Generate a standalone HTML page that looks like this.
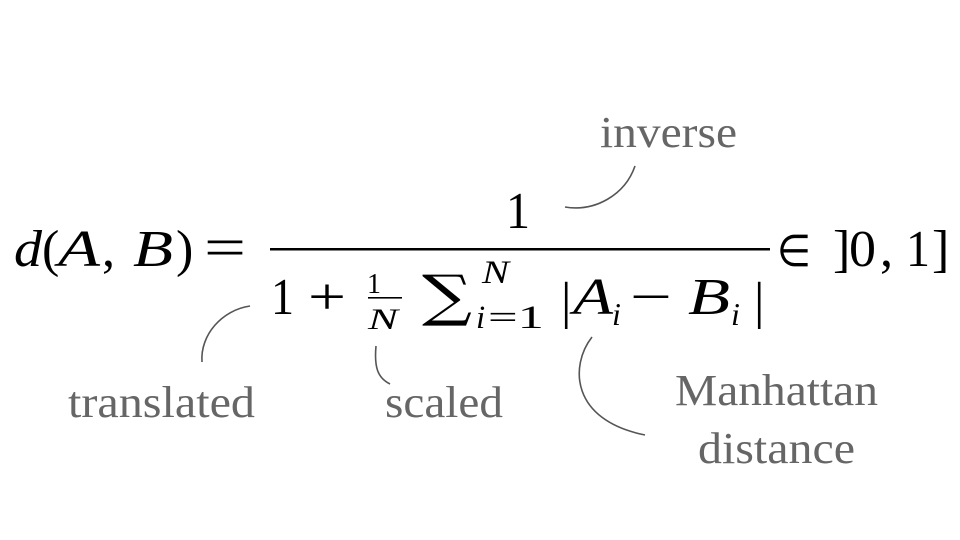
<!DOCTYPE html>
<html><head><meta charset="utf-8"><style>
html,body{margin:0;padding:0;background:#fff;width:960px;height:540px;overflow:hidden}
svg{display:block}
text{font-family:"Liberation Serif",serif}
.m{fill:#000}
.it{font-style:italic}
.l{fill:#666;font-size:44px}
.c{fill:none;stroke:#555;stroke-width:1.6}
</style></head><body>
<svg width="960" height="540">
<g>
<g font-size="52">
<text class="m it" x="14" y="266" textLength="28" lengthAdjust="spacingAndGlyphs">d</text>
<text class="m" x="42" y="266">(</text>
<text class="m it" x="58" y="266" textLength="42" lengthAdjust="spacingAndGlyphs">A</text>
<text class="m" x="102" y="266">,</text>
<text class="m it" x="133" y="266" textLength="40" lengthAdjust="spacingAndGlyphs">B</text>
<text class="m" x="176" y="266">)</text>
<text class="m" x="204" y="266" font-size="56" textLength="42" lengthAdjust="spacingAndGlyphs">=</text>
</g>
<text class="m" x="506" y="228" font-size="52" textLength="24" lengthAdjust="spacingAndGlyphs">1</text>
<rect x="270" y="248" width="500" height="2.5" fill="#000"/>
<g>
<text class="m" x="271" y="314" font-size="52" textLength="23" lengthAdjust="spacingAndGlyphs">1</text>
<text class="m" x="308" y="314" font-size="52" textLength="38" lengthAdjust="spacingAndGlyphs">+</text>
<text class="m" x="367" y="293" font-size="28">1</text>
<rect x="368" y="297" width="34" height="1.6" fill="#000"/>
<text class="m it" x="368" y="329" font-size="30" textLength="30" lengthAdjust="spacingAndGlyphs">N</text>
<text class="m" x="422" y="315" font-size="56" style="font-family:'DejaVu Serif',serif" textLength="50" lengthAdjust="spacingAndGlyphs">∑</text>
<text class="m it" x="482" y="283" font-size="33" textLength="27" lengthAdjust="spacingAndGlyphs">N</text>
<text class="m it" x="476" y="328" font-size="33">i</text>
<text class="m" x="488" y="328" font-size="33" textLength="56" lengthAdjust="spacingAndGlyphs">=1</text>
<text class="m" x="561" y="318" font-size="52">|</text>
<text class="m it" x="573" y="314" font-size="52" textLength="40" lengthAdjust="spacingAndGlyphs">A</text>
<text class="m it" x="612" y="325" font-size="32">i</text>
<text class="m" x="630" y="314" font-size="52" textLength="42" lengthAdjust="spacingAndGlyphs">−</text>
<text class="m it" x="688" y="314" font-size="52" textLength="42" lengthAdjust="spacingAndGlyphs">B</text>
<text class="m it" x="731" y="325" font-size="32">i</text>
<text class="m" x="754" y="318" font-size="52">|</text>
</g>
<g font-size="52">
<text class="m" x="777" y="266" style="font-family:'DejaVu Sans',sans-serif" font-size="44" textLength="34" lengthAdjust="spacingAndGlyphs">∈</text>
<text class="m" x="833" y="266">]</text>
<text class="m" x="849" y="266" textLength="27" lengthAdjust="spacingAndGlyphs">0</text>
<text class="m" x="880" y="266">,</text>
<text class="m" x="906" y="266" textLength="24" lengthAdjust="spacingAndGlyphs">1</text>
<text class="m" x="932" y="266">]</text>
</g>
</g>
<g>
<text class="l" x="600" y="147" textLength="137" lengthAdjust="spacingAndGlyphs">inverse</text>
<path class="c" d="M565,207 C595,212 625,195 635,166"/>
<text class="l" x="68" y="417" textLength="187" lengthAdjust="spacingAndGlyphs">translated</text>
<path class="c" d="M250,306 C222,310 200,335 202,362"/>
<text class="l" x="385" y="417" textLength="118" lengthAdjust="spacingAndGlyphs">scaled</text>
<path class="c" d="M376,346 C374,368 378,378 390,384"/>
<text class="l" x="675" y="405" textLength="203" lengthAdjust="spacingAndGlyphs">Manhattan</text>
<text class="l" x="698" y="463" textLength="157" lengthAdjust="spacingAndGlyphs">distance</text>
<path class="c" d="M592,337 C570,365 570,420 645,435"/>
</g>
</svg>
</body></html>
